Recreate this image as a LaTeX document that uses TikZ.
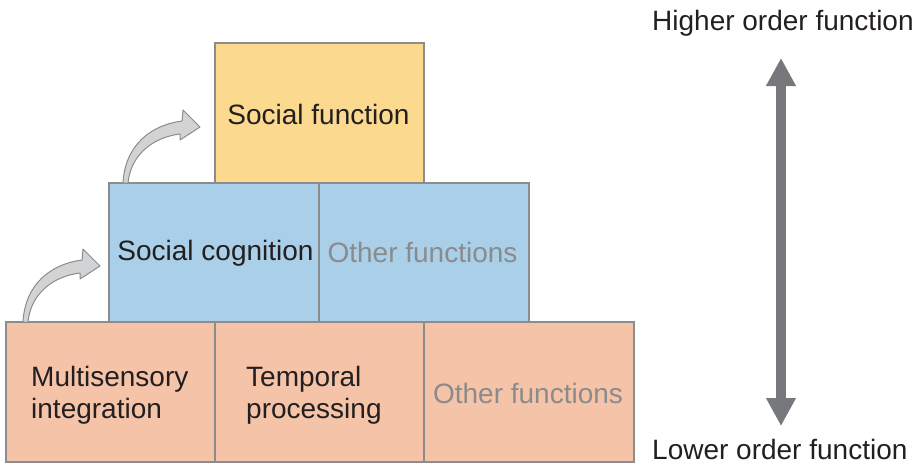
\documentclass[tikz,border=0pt]{standalone}
\usepackage{fontspec}
\setmainfont{Liberation Sans}
\usetikzlibrary{arrows.meta}
\definecolor{txt}{HTML}{231F20}
\definecolor{gtxt}{HTML}{8A8B8D}
\definecolor{edge}{HTML}{8C8C8C}
\definecolor{yel}{HTML}{FBD98E}
\definecolor{blu}{HTML}{AACFE8}
\definecolor{sal}{HTML}{F5C3A8}
\definecolor{arr}{HTML}{77787B}
\definecolor{carr}{HTML}{D2D3D4}
\tikzset{
  blk/.style={draw=edge, line width=1.3pt, minimum width=210pt, minimum height=140pt, inner sep=0pt},
  lbl/.style={font=\fontsize{28}{32}\selectfont, text=txt, inner sep=0pt, align=left},
  curv/.style={fill=carr, draw=edge, line width=1pt, line join=round}
}
\begin{document}
\begin{tikzpicture}[x=1pt,y=-1pt]
\useasboundingbox (0,0) rectangle (923,464);
% bottom row
\node[blk, fill=sal, minimum width=209pt] (b1) at (110.5,392) {};
\node[blk, fill=sal, minimum width=209pt] (b2) at (319.5,392) {};
\node[blk, fill=sal] (b3) at (529,392) {};
% middle row
\node[blk, fill=blu, minimum height=139pt] (m1) at (214,252.5) {};
\node[blk, fill=blu, minimum height=139pt] (m2) at (424,252.5) {};
% top
\node[blk, fill=yel, minimum width=209pt] (t1) at (319.5,113) {};
% texts
\node[lbl, anchor=west] (b1t) at ([xshift=-79.5pt,yshift=-3pt]b1.center) {Multisensory\\integration};
\node[lbl, anchor=west] (b2t) at ([xshift=-73.5pt,yshift=-3pt]b2.center) {Temporal\\processing};
\node[lbl, text=gtxt] (b3t) at ([xshift=-1pt,yshift=-1.5pt]b3.center) {Other functions};
\node[lbl] (m1t) at ([xshift=1.5pt,yshift=-1pt]m1.center) {Social cognition};
\node[lbl, text=gtxt] (m2t) at ([xshift=-1.5pt,yshift=0pt]m2.center) {Other functions};
\node[lbl] (t1t) at ([xshift=-1pt,yshift=-1.5pt]t1.center) {Social function};
% curved arrows
\foreach \bx/\by in {23/322, 123/183}{
  \begin{scope}[shift={(\bx,\by)}]
    \filldraw[curv] (0,0) .. controls (2,-38) and (28,-58) .. (59,-62)
      -- (60,-73) -- (77,-56) -- (57,-43) -- (57,-49)
      .. controls (32,-46) and (8,-30) .. (5,0) -- cycle;
  \end{scope}
}
% right scale
\node[lbl, anchor=west] (hi) at (652,23) {Higher order function};
\node[lbl, anchor=west] (lo) at (652,449) {Lower order function};
\coordinate (atop) at (781,58);
\coordinate (abot) at (781,426);
\draw[arr, line width=10pt, {Triangle[width=28pt,length=28pt]}-{Triangle[width=28pt,length=28pt]}] (atop) -- (abot);
\end{tikzpicture}
\end{document}
